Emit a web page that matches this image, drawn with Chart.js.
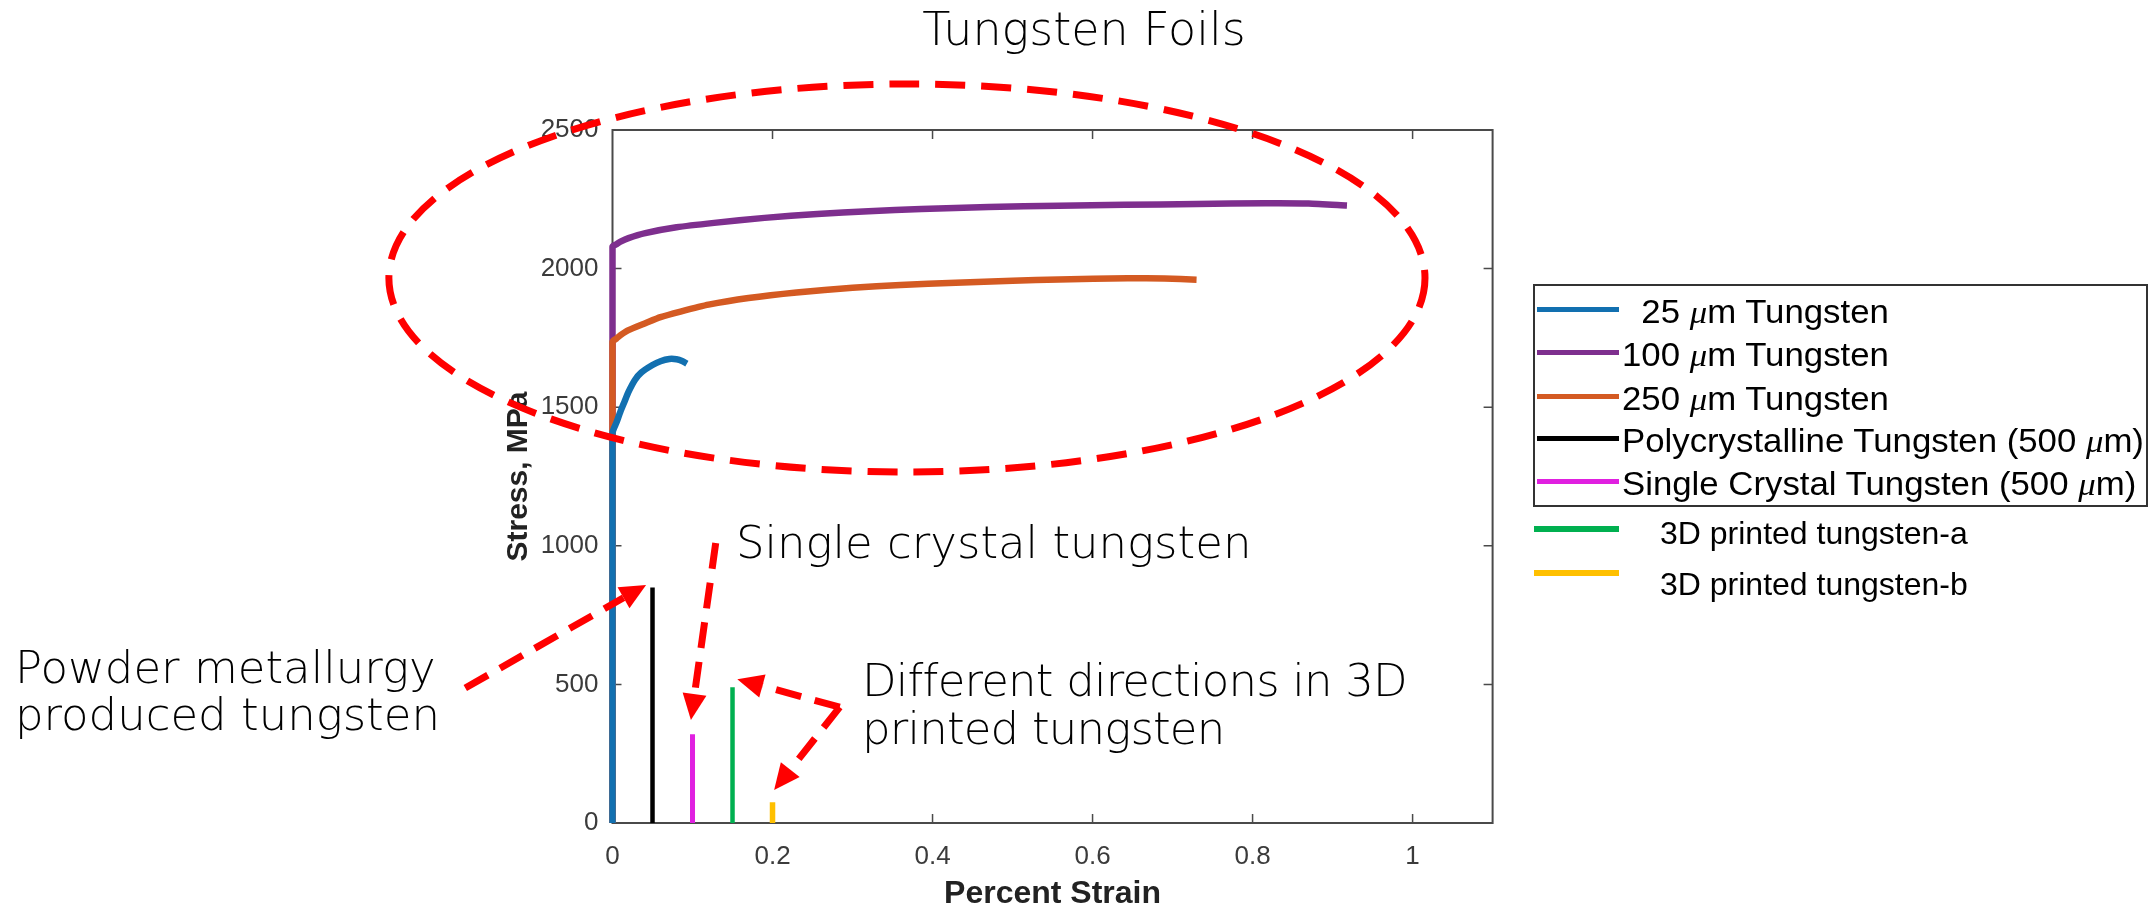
<!DOCTYPE html>
<html>
<head>
<meta charset="utf-8">
<title>Tungsten Foils</title>
<script src="https://cdn.jsdelivr.net/npm/chart.js@4.4.1/dist/chart.umd.min.js"></script>
<style>
  body { margin: 0; background: #fff; }
  #wrap { position: relative; width: 2152px; height: 910px; overflow: hidden; background: #fff; }
  #chart { position: absolute; left: 0; top: 0; }
  .note { position: absolute; font-family: 'DejaVu Sans', sans-serif; font-weight: 200; font-size: 45px; color: #000; white-space: nowrap; }
  #title { font-size: 46px; line-height: 46px; top: 6px; left: 1084px; transform: translateX(-50%); }
  #legend-box { position: absolute; left: 1533px; top: 284px; width: 611px; height: 219px; border: 2px solid #333; }
  .lg-line { position: absolute; }
  .lg-text { position: absolute; font-family: 'Liberation Sans', Arial, sans-serif; color: #000; white-space: pre; transform-origin: 0 50%; }
  .mu { font-family: 'Liberation Serif', serif; font-style: italic; }
</style>
</head>
<body>
<div id="wrap">
  <canvas id="chart" width="2152" height="910"></canvas>
  <div id="title" class="note">Tungsten Foils</div>
  <div class="note" style="left:15px; top:644px; line-height:47px;">Powder metallurgy<br>produced tungsten</div>
  <div class="note" style="left:736px; top:519px; line-height:47px;">Single crystal tungsten</div>
  <div class="note" style="left:862px; top:657px; line-height:48px; letter-spacing:-0.8px;">Different directions in 3D<br>printed tungsten</div>
  <div id="legend-box"></div>
  <div id="legend"></div>
</div>
<script>
// stress-strain curves (strain in %, stress in MPa)
const strain25 = [0, 0, 0.005, 0.01, 0.015, 0.02, 0.028, 0.036, 0.05, 0.06, 0.071, 0.08, 0.087, 0.093];
const stress25 = [0, 1407, 1445, 1485, 1520, 1555, 1598, 1625, 1652, 1666, 1674, 1673, 1667, 1657];

const strain100 = [0, 0, 0.005, 0.01, 0.02, 0.041, 0.08, 0.127, 0.19, 0.256, 0.32, 0.386, 0.47, 0.558, 0.64, 0.73, 0.816, 0.87, 0.918];
const stress100 = [0, 2079, 2088, 2097, 2110, 2128, 2149, 2165, 2183, 2197, 2207, 2215, 2222, 2227, 2230, 2233, 2236, 2235, 2228];

const strain250 = [0, 0, 0.005, 0.01, 0.02, 0.041, 0.06, 0.085, 0.12, 0.17, 0.23, 0.30, 0.36, 0.429, 0.5, 0.558, 0.644, 0.69, 0.73];
const stress250 = [0, 1736, 1748, 1760, 1778, 1803, 1825, 1845, 1870, 1894, 1914, 1931, 1941, 1949, 1956, 1961, 1965, 1964, 1960];

const strainPoly = [0.05, 0.05];
const stressPoly = [0, 850];

const strainSingle = [0.1, 0.1];
const stressSingle = [0, 320];

const strain3Da = [0.15, 0.15];
const stress3Da = [0, 490];

const strain3Db = [0.2, 0.2];
const stress3Db = [0, 75];

const seriesLabels = [
    '  25 μm Tungsten',
    '100 μm Tungsten',
    '250 μm Tungsten',
    'Polycrystalline Tungsten (500 μm)',
    'Single Crystal Tungsten (500 μm)',
    '3D printed tungsten-a',
    '3D printed tungsten-b'
];
const seriesColors = ['#1270B0', '#7E2F8E', '#D45A22', '#000000', '#E020E0', '#00B050', '#FFC000'];

const xTicks = [0, 0.2, 0.4, 0.6, 0.8, 1];
const yTicks = [0, 500, 1000, 1500, 2000, 2500];

// red call-outs, in data units
const ring = { x: 0.368, y: 1966, rx: 0.6475, ry: 700 };
const arrows = [
    [[-0.184, 487], [0.042, 859]],
    [[0.129, 1010], [0.098, 372]],
    [[0.284, 418], [0.156, 519]],
    [[0.284, 418], [0.202, 119]]
];

function points(xs, ys) {
    return xs.map((x, i) => ({ x: x, y: ys[i] }));
}

const curves = [
    points(strain25, stress25),
    points(strain100, stress100),
    points(strain250, stress250),
    points(strainPoly, stressPoly),
    points(strainSingle, stressSingle),
    points(strain3Da, stress3Da),
    points(strain3Db, stress3Db)
];
const widths = [6.5, 6.5, 6.5, 4.5, 5, 4.5, 5.5];
// blue over orange over purple where they share the zero-strain edge
const drawOrder = [0, 2, 1, 3, 3, 3, 3];

const TICK = 9;

const frame = {
    id: 'frame',
    beforeDatasetsDraw(chart) {
        const { ctx, chartArea: a, scales: { x, y } } = chart;
        ctx.save();
        ctx.strokeStyle = '#4a4a4a';
        ctx.lineWidth = 2;
        ctx.strokeRect(a.left, a.top, a.right - a.left, a.bottom - a.top);
        ctx.lineWidth = 1.5;
        ctx.beginPath();
        x.ticks.forEach(t => {
            const px = x.getPixelForValue(t.value);
            if (px <= a.left + 1 || px >= a.right - 1) return;
            ctx.moveTo(px, a.bottom); ctx.lineTo(px, a.bottom - TICK);
            ctx.moveTo(px, a.top); ctx.lineTo(px, a.top + TICK);
        });
        y.ticks.forEach(t => {
            const py = y.getPixelForValue(t.value);
            if (py >= a.bottom - 1 || py <= a.top + 1) return;
            ctx.moveTo(a.left, py); ctx.lineTo(a.left + TICK, py);
            ctx.moveTo(a.right, py); ctx.lineTo(a.right - TICK, py);
        });
        ctx.stroke();
        ctx.restore();
    }
};

function drawArrow(ctx, x0, y0, x1, y1) {
    const ang = Math.atan2(y1 - y0, x1 - x0);
    const head = 26, half = 12;
    const bx = x1 - head * Math.cos(ang);
    const by = y1 - head * Math.sin(ang);
    ctx.setLineDash([26, 14]);
    ctx.beginPath();
    ctx.moveTo(x0, y0);
    ctx.lineTo(bx, by);
    ctx.stroke();
    ctx.setLineDash([]);
    ctx.beginPath();
    ctx.moveTo(x1, y1);
    ctx.lineTo(bx + half * Math.sin(ang), by - half * Math.cos(ang));
    ctx.lineTo(bx - half * Math.sin(ang), by + half * Math.cos(ang));
    ctx.closePath();
    ctx.fill();
}

const callouts = {
    id: 'callouts',
    afterDraw(chart) {
        const { ctx, scales: { x, y } } = chart;
        const px = v => x.getPixelForValue(v);
        const py = v => y.getPixelForValue(v);
        ctx.save();
        ctx.strokeStyle = '#ff0000';
        ctx.fillStyle = '#ff0000';
        ctx.lineWidth = 7;
        ctx.lineCap = 'butt';
        ctx.setLineDash([30, 16]);
        ctx.beginPath();
        ctx.ellipse(px(ring.x), py(ring.y),
            px(ring.x + ring.rx) - px(ring.x),
            py(ring.y) - py(ring.y + ring.ry), 0, 0, Math.PI * 2);
        ctx.stroke();
        arrows.forEach(([from, to]) => {
            drawArrow(ctx, px(from[0]), py(from[1]), px(to[0]), py(to[1]));
        });
        ctx.restore();
    }
};

function buildLegend() {
    const host = document.getElementById('legend');
    const rows = [
        { cy: 309, lineL: 1537, lineW: 82, lineH: 5, textL: 1622, size: 32.5, stretch: 1.07, dy: 3 },
        { cy: 352.5, lineL: 1537, lineW: 82, lineH: 5, textL: 1622, size: 32.5, stretch: 1.07, dy: 3 },
        { cy: 396, lineL: 1537, lineW: 82, lineH: 5, textL: 1622, size: 32.5, stretch: 1.07, dy: 3 },
        { cy: 438.5, lineL: 1537, lineW: 82, lineH: 5, textL: 1622, size: 32.5, stretch: 1.07, dy: 3 },
        { cy: 481.5, lineL: 1537, lineW: 82, lineH: 5, textL: 1622, size: 32.5, stretch: 1.07, dy: 3 },
        { cy: 529, lineL: 1534, lineW: 85, lineH: 6, textL: 1660, size: 32, stretch: 1, dy: 4 },
        { cy: 573, lineL: 1534, lineW: 85, lineH: 6, textL: 1660, size: 32, stretch: 1, dy: 11 }
    ];
    host.innerHTML = rows.map((r, i) => {
        const label = seriesLabels[i].replace('μ', '<span class="mu">μ</span>');
        return `
            <div class="lg-line" style="left:${r.lineL}px; top:${r.cy - r.lineH / 2}px; width:${r.lineW}px; height:${r.lineH}px; background:${seriesColors[i]};"></div>
            <div class="lg-text" style="left:${r.textL}px; top:${r.cy + r.dy - r.size / 2}px; font-size:${r.size}px; line-height:${r.size}px; transform:scaleX(${r.stretch});">${label}</div>
        `;
    }).join('');
}

function initChart() {
    const ctx = document.getElementById('chart').getContext('2d');
    new Chart(ctx, {
        type: 'scatter',
        data: {
            datasets: curves.map((pts, i) => ({
                label: seriesLabels[i].trim(),
                data: pts,
                showLine: true,
                borderColor: seriesColors[i],
                backgroundColor: seriesColors[i],
                borderWidth: widths[i],
                pointRadius: 0,
                tension: 0.2,
                clip: 10,
                order: drawOrder[i]
            }))
        },
        options: {
            responsive: false,
            animation: false,
            events: [],
            layout: {
                padding: { left: 504, top: 130, right: 659.4, bottom: 0 }
            },
            plugins: {
                legend: { display: false },
                tooltip: { enabled: false },
                title: { display: false }
            },
            scales: {
                x: {
                    type: 'linear',
                    min: 0,
                    max: 1.1,
                    afterFit: scale => { scale.height = 87; },
                    afterBuildTicks: scale => { scale.ticks = xTicks.map(v => ({ value: v })); },
                    grid: { display: false, drawTicks: false },
                    border: { display: false },
                    ticks: {
                        padding: 18,
                        color: '#3b3b3b',
                        font: { family: 'Liberation Sans', size: 26 },
                        callback: v => String(Math.round(v * 10) / 10)
                    },
                    title: {
                        display: true,
                        text: 'Percent Strain',
                        color: '#222',
                        padding: { top: 0, bottom: 0 },
                        font: { family: 'Liberation Sans', size: 32, weight: 'bold', lineHeight: 1 }
                    }
                },
                y: {
                    type: 'linear',
                    min: 0,
                    max: 2500,
                    afterFit: scale => { scale.width = 108.5; },
                    afterBuildTicks: scale => { scale.ticks = yTicks.map(v => ({ value: v })); },
                    grid: { display: false, drawTicks: false },
                    border: { display: false },
                    ticks: {
                        padding: 14,
                        color: '#3b3b3b',
                        font: { family: 'Liberation Sans', size: 26 },
                        callback: v => String(v)
                    },
                    title: {
                        display: true,
                        text: 'Stress, MPa',
                        color: '#222',
                        padding: { top: 0, bottom: 0 },
                        font: { family: 'Liberation Sans', size: 30, weight: 'bold', lineHeight: 1 }
                    }
                }
            }
        },
        plugins: [frame, callouts]
    });
}

document.addEventListener('DOMContentLoaded', function() {
    buildLegend();
    initChart();
});
</script>
</body>
</html>
